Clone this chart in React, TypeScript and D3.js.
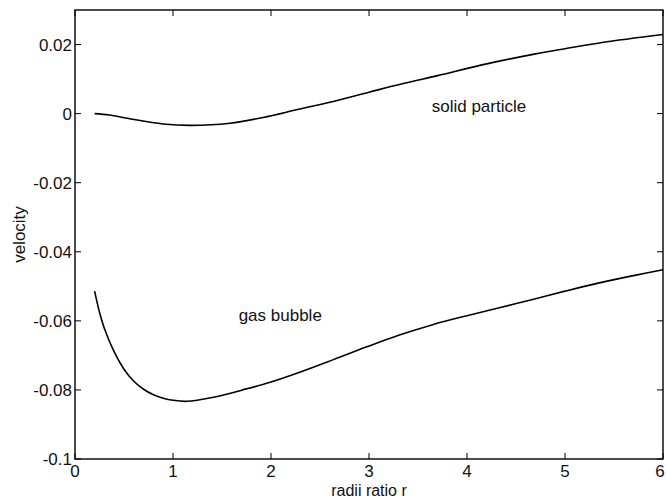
import * as d3 from 'd3';
import { useEffect, useRef } from 'react';

// radii ratio r and velocity
const bubbleR = [0.2, 0.25, 0.3, 0.4, 0.5, 0.6, 0.7, 0.8, 0.9, 1.0, 1.14, 1.4, 1.75, 2.0, 2.3, 2.63, 2.97, 3.31, 3.65, 4.0, 4.33, 4.67, 5.0, 5.35, 5.7, 6.0];
const bubbleV = [-0.0514, -0.0575, -0.0622, -0.069, -0.074, -0.0775, -0.0798, -0.0814, -0.0824, -0.083, -0.0833, -0.0822, -0.0797, -0.0777, -0.0748, -0.0713, -0.0676, -0.0641, -0.0611, -0.0585, -0.0562, -0.0538, -0.0514, -0.049, -0.0469, -0.0452];

const particleR = [0.2, 0.35, 0.56, 0.9, 1.18, 1.58, 1.92, 2.26, 2.6, 3.0, 3.35, 3.7, 4.2, 4.7, 5.0, 5.38, 6.0];
const particleV = [0, -0.0004, -0.0015, -0.003, -0.0034, -0.0028, -0.0011, 0.0011, 0.0033, 0.0062, 0.0087, 0.011, 0.0144, 0.0173, 0.0188, 0.0206, 0.0229];

const xTicks = [0, 1, 2, 3, 4, 5, 6];
const yTicks = [-0.1, -0.08, -0.06, -0.04, -0.02, 0, 0.02];
const yTickLabels = ['-0.1', '-0.08', '-0.06', '-0.04', '-0.02', '0', '0.02'];

const labels = [
  { text: 'gas bubble', r: 1.67, v: -0.06 },
  { text: 'solid particle', r: 3.64, v: 0.0004 },
];

function App() {
  const ref = useRef(null);

  useEffect(() => {
    const width = 666;
    const height = 498;
    const margin = { top: 10, right: 3, bottom: 39, left: 75 };
    const font = 'Liberation Sans, Arial, Helvetica, sans-serif';
    const fs = 17;

    const svg = d3.select(ref.current);
    svg.selectAll('*').remove();
    svg.attr('width', width).attr('height', height);

    svg.append('rect').attr('width', width).attr('height', height).attr('fill', '#fff');

    const x = d3.scaleLinear().domain([0, 6]).range([margin.left, width - margin.right]);
    const y = d3.scaleLinear().domain([-0.1, 0.03]).range([height - margin.bottom, margin.top]);

    const g = svg.append('g');
    const tick = 6;

    // ticks inside on all four sides
    xTicks.forEach((t) => {
      g.append('line').attr('x1', x(t)).attr('x2', x(t)).attr('y1', y(-0.1)).attr('y2', y(-0.1) - tick).attr('stroke', '#000');
      g.append('line').attr('x1', x(t)).attr('x2', x(t)).attr('y1', y(0.03)).attr('y2', y(0.03) + tick).attr('stroke', '#000');
      g.append('text')
        .attr('x', Math.min(x(t), width - 6))
        .attr('y', y(-0.1) + 18)
        .attr('text-anchor', 'middle')
        .attr('font-family', font)
        .attr('font-size', fs)
        .attr('fill', '#111')
        .text(t);
    });
    yTicks.forEach((t, i) => {
      g.append('line').attr('x1', x(0)).attr('x2', x(0) + tick).attr('y1', y(t)).attr('y2', y(t)).attr('stroke', '#000');
      g.append('line').attr('x1', x(6)).attr('x2', x(6) - tick).attr('y1', y(t)).attr('y2', y(t)).attr('stroke', '#000');
      g.append('text')
        .attr('x', x(0) - 3)
        .attr('y', y(t))
        .attr('dy', '0.36em')
        .attr('text-anchor', 'end')
        .attr('font-family', font)
        .attr('font-size', fs)
        .attr('fill', '#111')
        .text(yTickLabels[i]);
    });

    // box
    g.append('rect')
      .attr('x', x(0))
      .attr('y', y(0.03))
      .attr('width', x(6) - x(0))
      .attr('height', y(-0.1) - y(0.03))
      .attr('fill', 'none')
      .attr('stroke', '#000')
      .attr('stroke-width', 1.4);

    const line = d3.line().x((d) => x(d[0])).y((d) => y(d[1])).curve(d3.curveCatmullRom.alpha(0.5));

    g.append('path')
      .attr('d', line(bubbleR.map((r, i) => [r, bubbleV[i]])))
      .attr('fill', 'none')
      .attr('stroke', '#000')
      .attr('stroke-width', 1.6);
    g.append('path')
      .attr('d', line(particleR.map((r, i) => [r, particleV[i]])))
      .attr('fill', 'none')
      .attr('stroke', '#000')
      .attr('stroke-width', 1.6);

    labels.forEach((l) => {
      g.append('text')
        .attr('x', x(l.r))
        .attr('y', y(l.v))
        .attr('font-family', font)
        .attr('font-size', fs)
        .attr('fill', '#111')
        .text(l.text);
    });

    // axis titles
    svg.append('text')
      .attr('x', (x(0) + x(6)) / 2)
      .attr('y', 495.5)
      .attr('text-anchor', 'middle')
      .attr('font-family', font)
      .attr('font-size', 16)
      .attr('fill', '#111')
      .text('radii ratio r');
    svg.append('text')
      .attr('transform', `translate(25,${(y(-0.1) + y(0.03)) / 2}) rotate(-90)`)
      .attr('text-anchor', 'middle')
      .attr('font-family', font)
      .attr('font-size', fs)
      .attr('fill', '#111')
      .text('velocity');
  }, []);

  return (
    <svg ref={ref} style={{ position: 'absolute', left: 0, top: 0, display: 'block' }}></svg>
  );
}

export default App;
